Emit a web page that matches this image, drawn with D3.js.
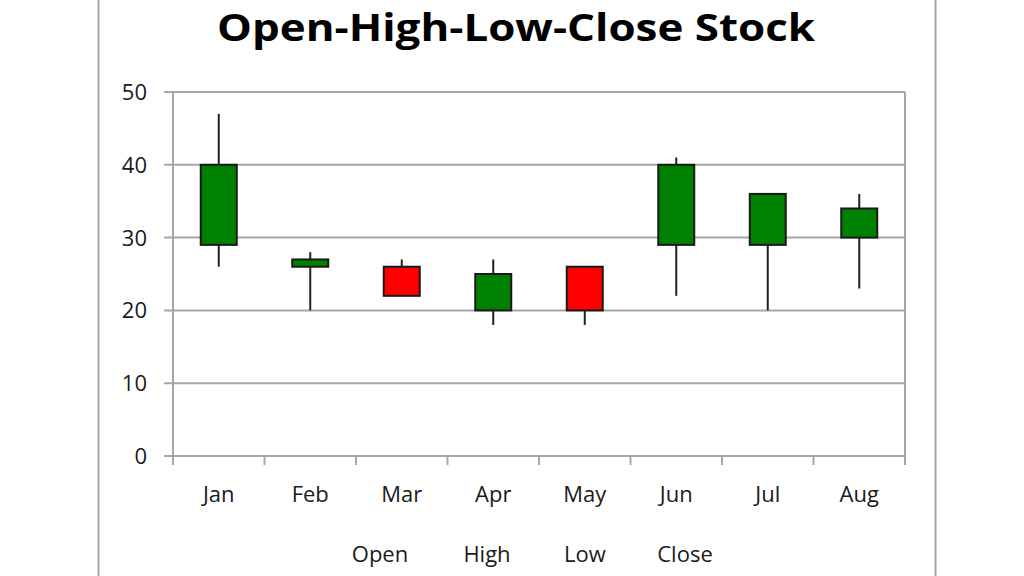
<!DOCTYPE html>
<html><head><meta charset="utf-8">
<script src="https://cdn.jsdelivr.net/npm/d3@7"></script>
<style>html,body{margin:0;padding:0;background:#fff;}svg{display:block;}</style>
</head><body>
<svg id="c" width="1024" height="576"></svg>
<script>
const months = ["Jan","Feb","Mar","Apr","May","Jun","Jul","Aug"];
const openVals  = [29, 26, 26, 20, 26, 29, 29, 30];
const highVals  = [47, 28, 27, 27, 26, 41, 36, 36];
const lowVals   = [26, 20, 22, 18, 18, 22, 20, 23];
const closeVals = [40, 27, 22, 25, 20, 40, 36, 34];
const yTicks = [0, 10, 20, 30, 40, 50];
const legendLabels = ["Open", "High", "Low", "Close"];
const titleText = "Open-High-Low-Close Stock";

(function(){
const data = months.map((m,i)=>({m, o:openVals[i], h:highVals[i], l:lowVals[i], c:closeVals[i]}));
const svg = d3.select("#c");
const font = "'Open Sans', sans-serif";
const pLeft = 173, pRight = 905, pTop = 92, pBottom = 456;
const x = d3.scaleBand().domain(months).range([pLeft, pRight]);
const y = d3.scaleLinear().domain([0, 50]).range([pBottom, pTop]);
const grid = "#a6a6a6";

// outer frame
svg.append("line").attr("x1",98.5).attr("x2",98.5).attr("y1",0).attr("y2",576).attr("stroke",grid).attr("stroke-width",2);
svg.append("line").attr("x1",935.5).attr("x2",935.5).attr("y1",0).attr("y2",576).attr("stroke",grid).attr("stroke-width",2);

// gridlines
svg.append("g").selectAll("line").data(yTicks).join("line")
  .attr("x1", pLeft-9).attr("x2", pRight)
  .attr("y1", d=>y(d)).attr("y2", d=>y(d))
  .attr("stroke", grid).attr("stroke-width", 2);

// axes lines
svg.append("line").attr("x1",pLeft).attr("x2",pLeft).attr("y1",pTop).attr("y2",pBottom).attr("stroke",grid).attr("stroke-width",2);
svg.append("line").attr("x1",pRight).attr("x2",pRight).attr("y1",pTop).attr("y2",pBottom).attr("stroke",grid).attr("stroke-width",2);

// x ticks at band boundaries
const bounds = months.map(m=>x(m)).concat([pRight]);
svg.append("g").selectAll("line").data(bounds).join("line")
  .attr("x1", d=>d).attr("x2", d=>d).attr("y1", pBottom).attr("y2", pBottom+9)
  .attr("stroke", grid).attr("stroke-width", 2);

// y tick labels
svg.append("g").selectAll("text").data(yTicks).join("text")
  .attr("x", 147).attr("y", d=>y(d)).attr("dy","0.36em")
  .attr("text-anchor","end").attr("font-family",font).attr("font-size",22).attr("fill","#1a1a1a")
  .text(d=>d);

// x labels
svg.append("g").selectAll("text").data(months).join("text")
  .attr("x", d=>x(d)+x.bandwidth()/2).attr("y", 502)
  .attr("text-anchor","middle").attr("font-family",font).attr("font-size",22).attr("fill","#1a1a1a")
  .text(d=>d);

// candles
const bw = 36;
const g = svg.append("g");
g.selectAll("line.wick").data(data).join("line").attr("class","wick")
  .attr("x1", d=>x(d.m)+x.bandwidth()/2).attr("x2", d=>x(d.m)+x.bandwidth()/2)
  .attr("y1", d=>y(d.h)).attr("y2", d=>y(d.l))
  .attr("stroke","#222").attr("stroke-width",2);
g.selectAll("rect").data(data).join("rect")
  .attr("x", d=>x(d.m)+x.bandwidth()/2-bw/2).attr("width", bw)
  .attr("y", d=>y(Math.max(d.o,d.c))).attr("height", d=>Math.abs(y(d.o)-y(d.c)))
  .attr("fill", d=>d.c>=d.o ? "#008000" : "#ff0000")
  .attr("stroke","#1a1a1a").attr("stroke-width",2);

// title
svg.append("text").attr("x",516).attr("y",41).attr("text-anchor","middle")
  .attr("font-family",font).attr("font-weight","bold").attr("font-size",37).attr("fill","#000")
  .attr("textLength",598).attr("lengthAdjust","spacingAndGlyphs")
  .text(titleText);

// legend (text only)
const legX = [380, 487, 585, 685];
svg.append("g").selectAll("text").data(legendLabels).join("text")
  .attr("x",(d,i)=>legX[i]).attr("y",562).attr("text-anchor","middle")
  .attr("font-family",font).attr("font-size",22).attr("fill","#1a1a1a")
  .text(d=>d);
})();
</script>
</body></html>
